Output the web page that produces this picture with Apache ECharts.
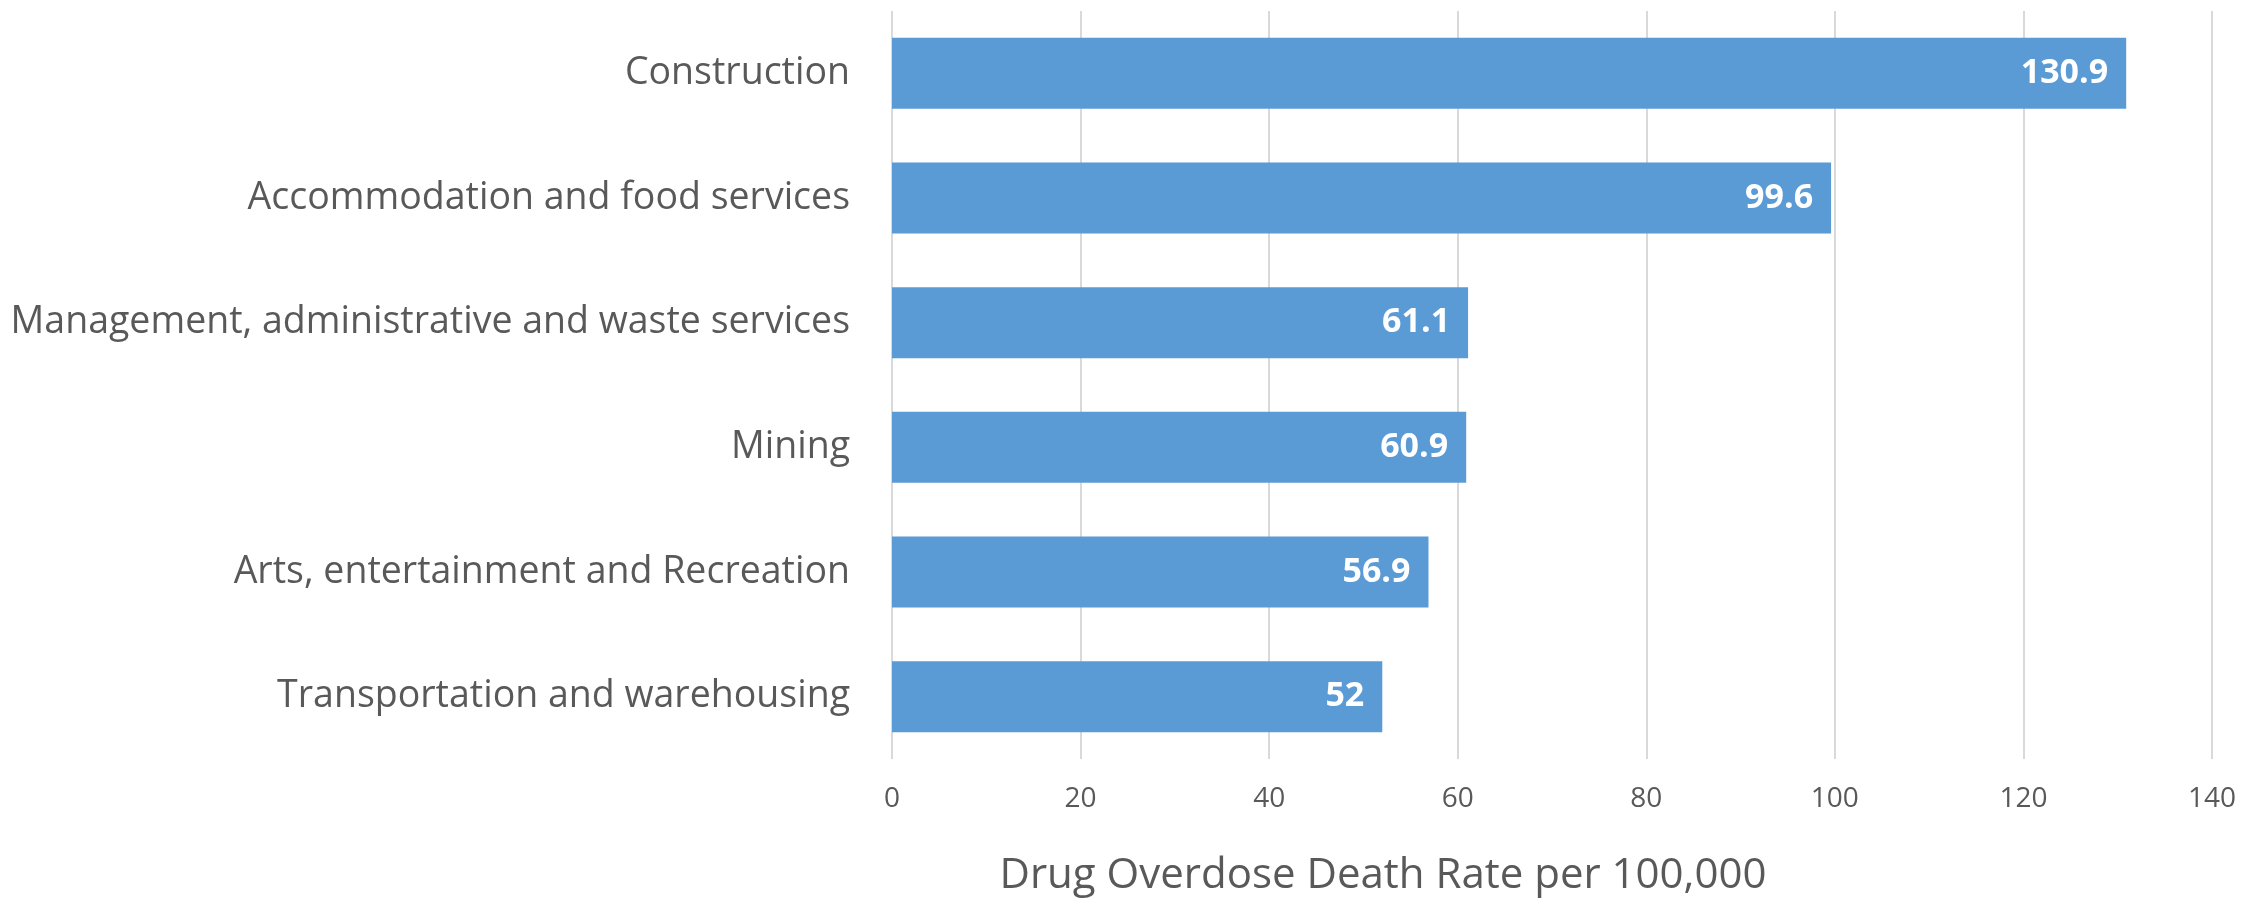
<!DOCTYPE html>
<html>
<head>
<meta charset="utf-8">
<script src="https://cdn.jsdelivr.net/npm/echarts@6/dist/echarts.min.js"></script>
<style>
html,body{margin:0;padding:0;background:#fff;}
#chart{width:2264px;height:899px;}
</style>
</head>
<body>
<div id="chart"></div>
<script>
const categories = [
  "Construction",
  "Accommodation and food services",
  "Management, administrative and waste services",
  "Mining",
  "Arts, entertainment and Recreation",
  "Transportation and warehousing"
];
const rates = [130.9, 99.6, 61.1, 60.9, 56.9, 52];
const axisTitle = "Drug Overdose Death Rate per 100,000";
const xMin = 0, xMax = 140, xStep = 20;

const FONT = "'Open Sans', sans-serif";
const chart = echarts.init(document.getElementById('chart'), null, {renderer: 'canvas'});
chart.setOption({
  animation: false,
  backgroundColor: '#ffffff',
  grid: {left: 892, right: 52, top: 11, bottom: 140, containLabel: false, outerBoundsMode: 'none'},
  xAxis: {
    type: 'value',
    min: xMin, max: xMax, interval: xStep,
    axisLine: {show: false},
    axisTick: {show: false},
    splitLine: {show: true, lineStyle: {color: '#d9d9d9', width: 2}},
    axisLabel: {color: '#595959', fontSize: 28, fontFamily: FONT, margin: 26}
  },
  yAxis: {
    type: 'category',
    data: categories,
    inverse: true,
    axisLine: {show: false},
    axisTick: {show: false},
    axisLabel: {color: '#595959', fontSize: 37.5, fontFamily: FONT, margin: 42}
  },
  series: [{
    type: 'bar',
    data: rates,
    barWidth: 71,
    itemStyle: {color: '#5b9bd5'},
    label: {
      show: true,
      position: 'insideRight',
      distance: 18,
      color: '#ffffff',
      fontWeight: 'bold',
      fontSize: 34,
      fontFamily: FONT
    }
  }],
  graphic: [{
    type: 'text',
    x: 1383, y: 876,
    style: {
      text: axisTitle,
      fill: '#595959',
      font: "42px " + FONT,
      textAlign: 'center',
      textVerticalAlign: 'middle'
    }
  }]
});
</script>
</body>
</html>
